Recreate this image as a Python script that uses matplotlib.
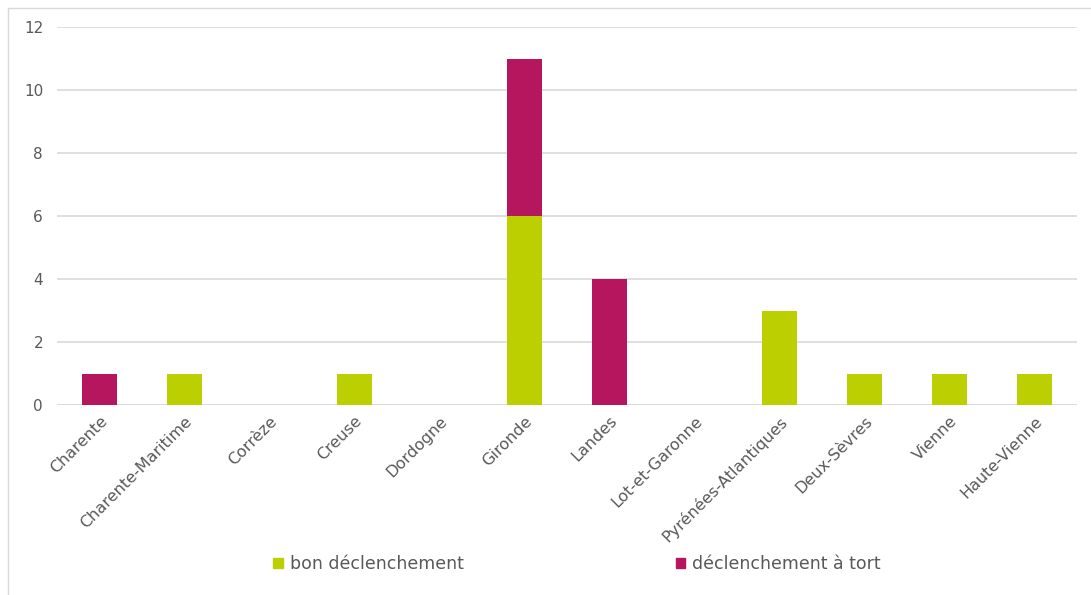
import matplotlib.pyplot as plt
from matplotlib.patches import Rectangle, Patch
import numpy as np

departements = ["Charente", "Charente-Maritime", "Corrèze", "Creuse", "Dordogne",
                "Gironde", "Landes", "Lot-et-Garonne", "Pyrénées-Atlantiques",
                "Deux-Sèvres", "Vienne", "Haute-Vienne"]
bon = [0, 1, 0, 1, 0, 6, 0, 0, 3, 1, 1, 1]
tort = [1, 0, 0, 0, 0, 5, 4, 0, 0, 0, 0, 0]
yticks = [0, 2, 4, 6, 8, 10, 12]

green = "#BCCF00"
magenta = "#B5165E"
txt = "#595959"

plt.rcParams["font.family"] = ["DejaVu Sans"]

fig = plt.figure(figsize=(10.91, 5.95), dpi=100)
ax = fig.add_axes([57/1091, 1 - 405/595, 1020/1091, 378/595])

x = np.arange(len(departements))
ax.bar(x, bon, width=0.41, color=green, zorder=3)
ax.bar(x, tort, width=0.41, bottom=bon, color=magenta, zorder=3)

ax.set_xlim(-0.5, len(departements) - 0.5)
ax.set_ylim(0, 12)
ax.set_yticks(yticks)
ax.yaxis.grid(True, color="#D9D9D9", linewidth=1.2, zorder=0)
for s in ax.spines.values():
    s.set_visible(False)
ax.tick_params(axis="y", length=0, labelsize=11, colors=txt, pad=10)
ax.tick_params(axis="x", length=0, labelsize=11.5, colors=txt, pad=6)
ax.set_xticks(x)
ax.set_xticklabels(departements, rotation=45, ha="right", rotation_mode="anchor")
ax.axhline(0, color="#D9D9D9", linewidth=1.2, zorder=2)

# outer frame
fig.patches.append(Rectangle((8/1091, -0.01), 1.1, 1 - 8/595 + 0.01,
                             transform=fig.transFigure, fill=False,
                             edgecolor="#D9D9D9", linewidth=1))

handles = [Patch(color=green, label="bon déclenchement"),
           Patch(color=magenta, label="déclenchement à tort")]
fig.legend(handles=handles, loc="center", bbox_to_anchor=(0.529, 1 - 564/595),
           ncol=2, frameon=False, fontsize=12.5, labelcolor=txt,
           handlelength=0.55, handleheight=0.55, handletextpad=0.4,
           columnspacing=12.2)

fig.savefig("out.png", dpi=100)
